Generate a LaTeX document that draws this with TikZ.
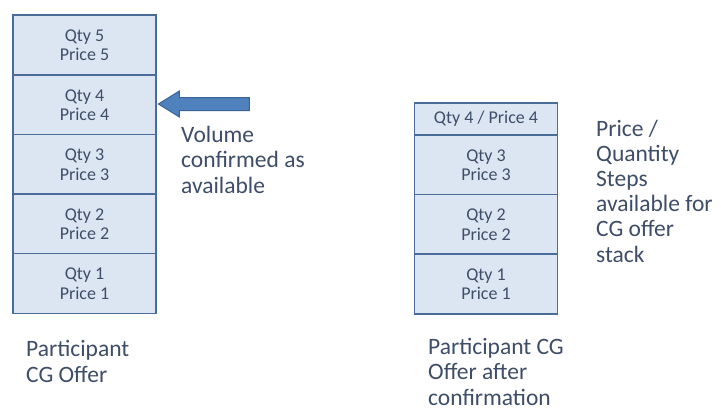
\documentclass[tikz,border=0pt]{standalone}
\usepackage{fontspec}
\setmainfont{Carlito}
\usetikzlibrary{calc}
\definecolor{cellfill}{HTML}{DCE6F2}
\definecolor{cellline}{HTML}{4A6C98}
\definecolor{labeltext}{HTML}{3E4D68}
\definecolor{arrowfill}{HTML}{4F81BD}
\definecolor{arrowline}{HTML}{3A6294}
\tikzset{
  cell/.style={draw=cellline, fill=cellfill, line width=1.8pt, inner sep=0pt,
    minimum width=143pt, align=center, text=labeltext,
    font=\fontsize{18}{19.5}\selectfont},
  tallcell/.style={cell, minimum height=60pt},
  shortcell/.style={cell, minimum height=32pt},
  % anchored at the baseline of the last line
  caption/.style={anchor=base west, align=left, inner sep=0pt, text=labeltext,
    font=\fontsize{23.5}{25.2}\selectfont},
  blockarrow/.style={draw=arrowline, fill=arrowfill, line width=1pt, line join=miter}
}
\begin{document}
\begin{tikzpicture}[x=1pt, y=-1pt]
\path[use as bounding box, fill=white] (0,0) rectangle (721,410);

% original offer stack
\node[tallcell] (l5) at (84.5,45)  {Qty 5\\Price 5};
\node[tallcell] (l4) at (84.5,105) {Qty 4\\Price 4};
\node[tallcell] (l3) at (84.5,164.5) {Qty 3\\Price 3};
\node[tallcell] (l2) at (84.5,224) {Qty 2\\Price 2};
\node[tallcell] (l1) at (84.5,283.5) {Qty 1\\Price 1};

% stack after confirmation
\node[shortcell] (r4) at (486,119) {Qty 4 / Price 4};
\node[tallcell] (r3) at (486,165) {Qty 3\\Price 3};
\node[tallcell] (r2) at (486,224.5) {Qty 2\\Price 2};
\node[tallcell] (r1) at (486,284) {Qty 1\\Price 1};

% block arrow pointing at the confirmed step
\coordinate (tip) at ($(l4.east)+(1.5,-1)$);
\draw[blockarrow] (tip) -- ++(21,-13) -- ++(0,6.5) -- ++(70,0) -- ++(0,13)
  -- ++(-70,0) -- ++(0,6.5) -- cycle;

% captions
\node[caption] (vol) at (181,193) {Volume\\confirmed as\\available};
\node[caption] (steps) at (596,262) {Price /\\Quantity\\Steps\\available for\\CG offer\\stack};
\node[caption] (capl) at (26,382) {Participant\\CG Offer};
\node[caption] (capr) at (428,405) {Participant CG\\Offer after\\confirmation};
\end{tikzpicture}
\end{document}
